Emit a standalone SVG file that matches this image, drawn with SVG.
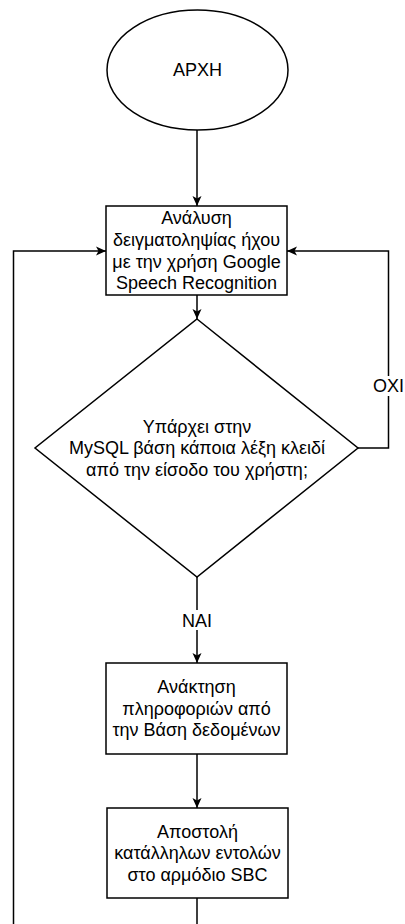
<svg xmlns="http://www.w3.org/2000/svg" width="405" height="924" viewBox="0 0 405 924">
<style>
.shape{fill:#fff;stroke:#000;stroke-width:1.5}
.edge{fill:none;stroke:#000;stroke-width:1.5}
text{font-family:"Liberation Sans",Arial,Helvetica,sans-serif;font-size:18px;fill:#000;text-anchor:middle}
.lbl{fill:#fff;stroke:none}
</style>
<defs>
<marker id="arr" viewBox="0 0 10 10" refX="10" refY="5" markerWidth="10" markerHeight="10" markerUnits="userSpaceOnUse" orient="auto">
<path d="M0,0.5 L10,5 L0,9.5 L2.5,5 z" fill="#000"/>
</marker>
</defs>
<rect width="405" height="924" fill="#fff"/>
<g id="connectors">
<path class="edge" d="M197,130 V206" marker-end="url(#arr)"/>
<path class="edge" d="M197,295 V319" marker-end="url(#arr)"/>
<path class="edge" d="M197,577 V663" marker-end="url(#arr)"/>
<path class="edge" d="M197,754 V808" marker-end="url(#arr)"/>
<path class="edge" d="M197,898 V945 H13.5 V251 H106" marker-end="url(#arr)"/>
<path class="edge" d="M358,448 H388.5 V251 H287" marker-end="url(#arr)"/>
<rect class="lbl" x="180" y="610" width="34" height="20"/>
<text x="197" y="626.5">ΝΑΙ</text>
<rect class="lbl" x="371" y="376" width="34" height="20"/>
<text x="388.5" y="392.3">ΟΧΙ</text>
</g>
<g id="start">
<ellipse class="shape" cx="197.5" cy="70" rx="90.5" ry="60"/>
<text x="197.5" y="76.3">ΑΡΧΗ</text>
</g>
<g id="analysis">
<rect class="shape" x="106" y="206" width="181" height="89"/>
<text x="196.5" y="224.3">Ανάλυση</text>
<text x="196.5" y="245.9">δειγματοληψίας ήχου</text>
<text x="196.5" y="267.5">με την χρήση Google</text>
<text x="196.5" y="289.1">Speech Recognition</text>
</g>
<g id="decision">
<polygon class="shape" points="197,319 358,448 197,577 35,448"/>
<text x="197" y="432.6">Υπάρχει στην</text>
<text x="197" y="454.2">MySQL βάση κάποια λέξη κλειδί</text>
<text x="197" y="475.8">από την είσοδο του χρήστη;</text>
</g>
<g id="retrieve">
<rect class="shape" x="106" y="663" width="181" height="91"/>
<text x="196.5" y="693.1">Ανάκτηση</text>
<text x="196.5" y="714.7">πληροφοριών από</text>
<text x="196.5" y="736.3">την Βάση δεδομένων</text>
</g>
<g id="send">
<rect class="shape" x="107" y="808" width="181" height="90"/>
<text x="197.5" y="837.6">Αποστολή</text>
<text x="197.5" y="859.2">κατάλληλων εντολών</text>
<text x="197.5" y="880.8">στο αρμόδιο SBC</text>
</g>
</svg>
